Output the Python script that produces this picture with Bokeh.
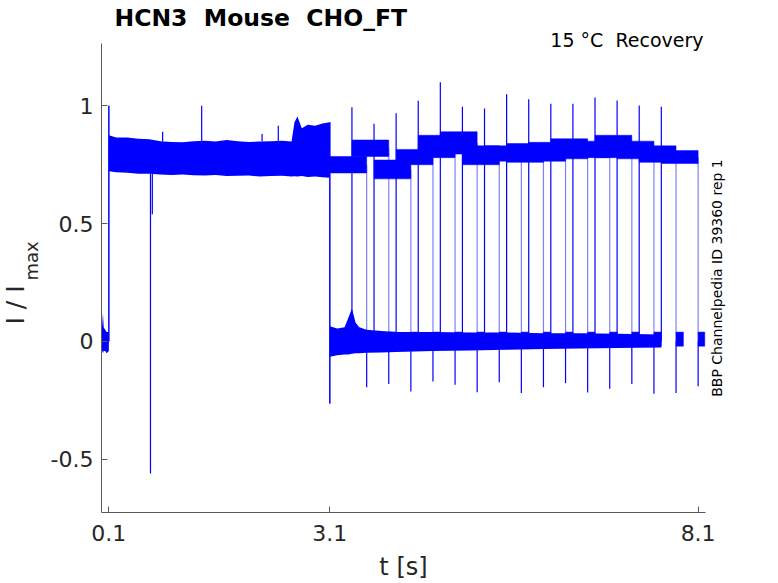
import numpy as np
from bokeh.plotting import figure
from bokeh.models import Range1d, FixedTicker, CustomJSTickFormatter, Label, ColumnDataSource, LinearAxis
from bokeh.embed import file_html
from bokeh.resources import INLINE

# ---------------- data ----------------
BLUE = "#0000ff"

# holding segment before the prepulse (t < 0.1 s)
pre_t  = [0.0, 0.02, 0.03, 0.05, 0.07, 0.10]
pre_hi = [0.03, 0.12, 0.06, 0.05, 0.04, 0.04]
pre_lo = [-0.03, -0.05, -0.04, -0.04, -0.05, -0.04]

# prepulse envelope of all overlaid sweeps (0.1 .. 3.1 s)
pp_t  = [0.10, 0.20, 0.35, 0.50, 0.65, 0.80, 0.95, 1.10, 1.25, 1.40, 1.55, 1.70,
         1.85, 2.00, 2.15, 2.30, 2.45, 2.58, 2.62, 2.66, 2.72, 2.80, 2.90, 3.00, 3.10]
pp_hi = [0.875, 0.865, 0.866, 0.860, 0.858, 0.850, 0.846, 0.845, 0.850, 0.852, 0.848, 0.855,
         0.850, 0.846, 0.848, 0.850, 0.852, 0.848, 0.930, 0.955, 0.905, 0.920, 0.915, 0.925, 0.930]
pp_lo = [0.722, 0.718, 0.716, 0.712, 0.712, 0.708, 0.706, 0.708, 0.705, 0.704, 0.706, 0.702,
         0.703, 0.704, 0.700, 0.702, 0.703, 0.700, 0.701, 0.700, 0.702, 0.698, 0.700, 0.697, 0.695]

onset_t, onset_peak = 0.1, 1.0                     # step onset spike
off_t, off_top, off_bottom = 3.1, 0.93, -0.264     # end of prepulse

# small excursions on the prepulse
pp_spk_t   = [0.83, 1.36, 2.18, 2.40]
pp_spk_top = [0.89, 1.00, 0.88, 0.915]
pp_neg_t   = [0.665, 0.69]
pp_neg_bot = [-0.56, 0.54]

# interval (near 0) envelope after the prepulse, up to the last test onset
lb_t  = [3.10, 3.20, 3.30, 3.35, 3.40, 3.45, 3.50, 3.60, 3.80, 4.00, 4.50, 5.00,
         5.50, 6.00, 6.50, 7.00, 7.60]
lb_hi = [0.065, 0.055, 0.060, 0.100, 0.140, 0.080, 0.060, 0.050, 0.045, 0.040, 0.040, 0.038,
         0.038, 0.035, 0.035, 0.033, 0.030]
lb_lo = [-0.065, -0.058, -0.055, -0.055, -0.052, -0.050, -0.050, -0.048, -0.047, -0.045, -0.040, -0.038,
         -0.035, -0.032, -0.030, -0.028, -0.025]

# test pulses, one per sweep
test_on  = [3.1, 3.4, 3.7, 4.0, 4.3, 4.6, 4.9, 5.2, 5.5, 5.8, 6.1, 6.4, 6.7, 7.0, 7.3, 7.6]
test_off = [3.6, 3.9, 4.2, 4.5, 4.8, 5.1, 5.4, 5.7, 6.0, 6.3, 6.6, 6.9, 7.2, 7.5, 7.8, 8.1]
test_lo  = [0.715, 0.785, 0.690, 0.750, 0.780, 0.795, 0.750, 0.765, 0.760, 0.765, 0.775, 0.780, 0.780, 0.775, 0.760, 0.755]
test_hi  = [0.785, 0.855, 0.770, 0.815, 0.875, 0.890, 0.830, 0.830, 0.840, 0.845, 0.860, 0.850, 0.875, 0.850, 0.830, 0.810]
on_peak  = [None, 0.994, 0.924, 0.968, 1.021, 1.100, 0.996, 0.989, 1.049, 1.028, 1.009, 1.009, 1.035, 1.022, 1.001, 0.996]
off_trough = [-0.194, -0.180, -0.212, -0.170, -0.184, -0.215, -0.173, -0.218, -0.194, -0.177, -0.216,
              -0.201, -0.180, -0.222, -0.219, -0.190]
tail_end = [3.7, 4.0, 4.3, 4.6, 4.9, 5.2, 5.5, 5.8, 6.1, 6.4, 6.7, 7.0, 7.3, 7.6, 7.9, 8.19]
tail_lo, tail_hi = -0.02, 0.04

x_ticks = [0.1, 3.1, 8.1]
y_ticks = [-0.5, 0, 0.5, 1]
X0, X1 = 0.0, 8.2           # extent of the time axis
Y0, Y1 = -0.7255, 1.2643    # extent of the current axis

# ---------------- geometry (pixels of the canvas) ----------------
W, H = 770, 582
AX_L, AX_R, AX_T, AX_B = 101, 705, 43, 512
sx = (AX_R - AX_L) / (X1 - X0)
sy = (AX_B - AX_T) / (Y1 - Y0)
xr = Range1d(X0 - AX_L / sx, X0 + (W - AX_L) / sx)
yr = Range1d(Y0 - (H - AX_B) / sy, Y1 + AX_T / sy)

p = figure(width=W, height=H, x_range=xr, y_range=yr, output_backend="svg", toolbar_location=None,
           x_axis_location=None, y_axis_location=None, title_location=None,
           min_border=0, min_border_left=0, min_border_right=0, min_border_top=0, min_border_bottom=0)
p.outline_line_color = None
p.grid.visible = False

xax = LinearAxis(fixed_location=Y0, bounds=(X0, X1), ticker=FixedTicker(ticks=x_ticks))
yax = LinearAxis(fixed_location=X0, bounds=(Y0, Y1), ticker=FixedTicker(ticks=y_ticks))
for ax in (xax, yax):
    ax.axis_line_color = "#5a5a5a"
    ax.major_tick_line_color = "#5a5a5a"
    ax.major_tick_in = 6
    ax.major_tick_out = 0
    ax.minor_tick_line_color = None
    ax.major_label_text_font = "DejaVu Sans"
    ax.major_label_text_font_size = "22px"
    ax.major_label_text_color = "#262626"
    ax.formatter = CustomJSTickFormatter(code="return tick.toString();")
xax.major_label_standoff = 12
yax.major_label_standoff = 8
p.add_layout(xax, "below")
p.add_layout(yax, "left")

# bands
p.varea(x=pre_t, y1=pre_lo, y2=pre_hi, fill_color=BLUE)
p.varea(x=pp_t, y1=pp_lo, y2=pp_hi, fill_color=BLUE)
p.varea(x=lb_t, y1=lb_lo, y2=lb_hi, fill_color=BLUE)
p.quad(left=test_on, right=test_off, bottom=test_lo, top=test_hi, fill_color=BLUE, line_color=BLUE, line_width=0.5)
p.quad(left=test_off, right=tail_end, bottom=[tail_lo] * len(test_off), top=[tail_hi] * len(test_off),
       fill_color=BLUE, line_color=BLUE, line_width=0.5)

# transitions
p.segment(x0=[onset_t], y0=[0], x1=[onset_t], y1=[onset_peak], line_color=BLUE, line_width=1.5)
p.segment(x0=[off_t], y0=[off_top], x1=[off_t], y1=[off_bottom], line_color=BLUE, line_width=1.5)
p.segment(x0=pp_spk_t, y0=[pp_hi[5]] * len(pp_spk_t), x1=pp_spk_t, y1=pp_spk_top, line_color=BLUE, line_width=1.2)
p.segment(x0=pp_neg_t, y0=[pp_lo[4]] * len(pp_neg_t), x1=pp_neg_t, y1=pp_neg_bot, line_color=BLUE, line_width=1.2)

on_src = ColumnDataSource(dict(t=test_on[1:], pk=on_peak[1:], z=[0] * (len(test_on) - 1)))
p.segment(x0="t", y0="z", x1="t", y1="pk", source=on_src, line_color=BLUE, line_width=1.2)

mid = [(a + b) / 2 for a, b in zip(test_lo, test_hi)]
off_src = ColumnDataSource(dict(t=test_off, mid=mid, tr=off_trough, z=[0] * len(test_off)))
p.segment(x0="t", y0="mid", x1="t", y1="z", source=off_src, line_color=BLUE, line_alpha=0.5, line_width=1.2)
p.segment(x0="t", y0="z", x1="t", y1="tr", source=off_src, line_color=BLUE, line_width=1.2)

# texts: canvas pixel positions (x from left, y from top) converted to frame screen units
F = "DejaVu Sans"
def txt(x, y, s, size, **kw):
    kw.setdefault("text_color", "#262626")
    p.add_layout(Label(x=x, y=H - y, x_units="screen", y_units="screen", text=s, text_font=F,
                       text_font_size=size, text_baseline="alphabetic", **kw))

NB = "\u00a0"
txt(114, 17.8, f"HCN3 {NB}Mouse {NB}CHO_FT", "23.5px", text_font_style="bold", text_color="black")
txt(703, 39.9, f"15 °C {NB}Recovery", "19px", text_align="right", text_color="black")
txt(15, 324, "I / I", "25px", angle=np.pi / 2)
txt(31.1, 280, "max", "18px", angle=np.pi / 2)
txt(403, 566.9, "t [s]", "24px", text_align="center")
txt(716.3, 277.5, "BBP Channelpedia ID 39360 rep 1", "14px", angle=np.pi / 2, text_align="center",
    text_color="black")

open("out.html", "w").write(file_html(p, INLINE))
